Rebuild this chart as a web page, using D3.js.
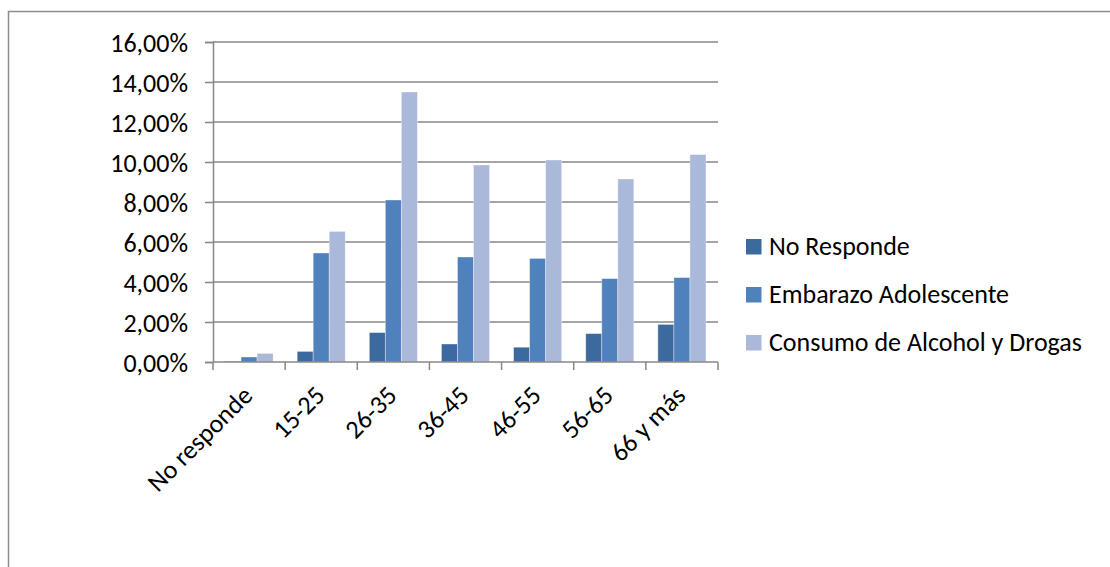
<!DOCTYPE html>
<html>
<head>
<meta charset="utf-8">
<script src="https://cdn.jsdelivr.net/npm/d3@7"></script>
<style>
  html, body { margin: 0; padding: 0; background: #fff; overflow: hidden; }
  svg { display: block; }
  text { font-family: Carlito, Calibri, Lato, "Open Sans", sans-serif; fill: #000; }
</style>
</head>
<body>
<svg id="chart" width="1110" height="567"></svg>
<script>
// Age groups on the category axis
const categories = ["No responde", "15-25", "26-35", "36-45", "46-55", "56-65", "66 y más"];

// Series names shown in the legend
const seriesNames = ["No Responde", "Embarazo Adolescente", "Consumo de Alcohol y Drogas"];

// Percentages per age group, one array per series
const noResponde = [0.03, 0.53, 1.47, 0.90, 0.74, 1.42, 1.88];
const embarazo   = [0.25, 5.45, 8.10, 5.25, 5.18, 4.17, 4.22];
const consumo    = [0.43, 6.53, 13.50, 9.85, 10.10, 9.15, 10.37];

// Value axis ticks (percent)
const yTicks = [0, 2, 4, 6, 8, 10, 12, 14, 16];

const seriesValues = [noResponde, embarazo, consumo];
const colors = ["#3D6A9E", "#4F81BD", "#AAB9D9"];
const axisGray = "#878787";
const fontSize = "26px";

const svg = d3.select("#chart");

// Outer chart frame (runs off the right and bottom edges)
svg.append("rect")
  .attr("x", 8.5).attr("y", 11.5)
  .attr("width", 1300).attr("height", 800)
  .attr("fill", "#fff")
  .attr("stroke", "#8c8c8c").attr("stroke-width", 1.5);

const plot = { left: 213, right: 718, top: 42, bottom: 362 };

const x = d3.scaleBand()
  .domain(categories)
  .range([plot.left, plot.right])
  .paddingInner(0).paddingOuter(0);

const inner = d3.scaleBand()
  .domain(d3.range(seriesNames.length))
  .range([0, x.bandwidth()])
  .paddingOuter(0.75).paddingInner(0);

const y = d3.scaleLinear().domain([0, 16]).range([plot.bottom, plot.top]);

const locale = d3.formatLocale({ decimal: ",", thousands: ".", grouping: [3], currency: ["", "€"] });
const fmt = v => locale.format(".2f")(v) + "%";

// Horizontal gridlines
svg.append("g")
  .selectAll("line")
  .data(yTicks.filter(t => t > 0))
  .join("line")
  .attr("x1", plot.left).attr("x2", plot.right)
  .attr("y1", d => y(d)).attr("y2", d => y(d))
  .attr("stroke", axisGray).attr("stroke-width", 1.5);

// Bars
const groups = svg.append("g")
  .selectAll("g")
  .data(seriesValues)
  .join("g")
  .attr("fill", (d, i) => colors[i]);

groups.selectAll("rect")
  .data((vals, si) => vals.map((v, ci) => ({ v, ci, si })))
  .join("rect")
  .attr("x", d => x(categories[d.ci]) + inner(d.si))
  .attr("width", inner.bandwidth())
  .attr("y", d => y(d.v))
  .attr("height", d => y(0) - y(d.v))
  .attr("stroke", "rgba(255,255,255,0.45)")
  .attr("stroke-width", 0.8);

// Value axis
const yAxis = svg.append("g")
  .attr("transform", `translate(${plot.left},0)`)
  .call(d3.axisLeft(y).tickValues(yTicks).tickFormat(fmt).tickSize(8).tickPadding(17));
yAxis.select(".domain").attr("stroke", axisGray).attr("stroke-width", 1.5);
yAxis.selectAll(".tick line").attr("stroke", axisGray).attr("stroke-width", 1.5);
yAxis.selectAll(".tick text")
  .style("font-size", fontSize)
  .attr("dy", "0.36em");

// Category axis with ticks at category boundaries
const xAxisG = svg.append("g").attr("transform", `translate(0,${plot.bottom})`);
xAxisG.append("line")
  .attr("x1", plot.left).attr("x2", plot.right)
  .attr("stroke", axisGray).attr("stroke-width", 1.5);
const boundaries = categories.map(c => x(c)).concat([x(categories[categories.length - 1]) + x.bandwidth()]);
xAxisG.selectAll("line.tk")
  .data(boundaries)
  .join("line")
  .attr("class", "tk")
  .attr("x1", d => d).attr("x2", d => d)
  .attr("y1", 0).attr("y2", 8)
  .attr("stroke", axisGray).attr("stroke-width", 1.5);
xAxisG.selectAll("text")
  .data(categories)
  .join("text")
  .attr("text-anchor", "end")
  .attr("transform", d => `translate(${x(d) + x.bandwidth() / 2 + 5},${35}) rotate(-45)`)
  .style("font-size", fontSize)
  .text(d => d);

// Legend
const legend = svg.append("g").attr("transform", "translate(746,246.5)");
const rows = legend.selectAll("g")
  .data(seriesNames)
  .join("g")
  .attr("transform", (d, i) => `translate(0,${i * 48})`);
rows.append("rect")
  .attr("x", 0).attr("y", -7.5)
  .attr("width", 15.5).attr("height", 15.5)
  .attr("fill", (d, i) => colors[i]);
rows.append("text")
  .attr("x", 23).attr("y", 0).attr("dy", "0.34em")
  .style("font-size", fontSize)
  .text(d => d);
</script>
</body>
</html>
